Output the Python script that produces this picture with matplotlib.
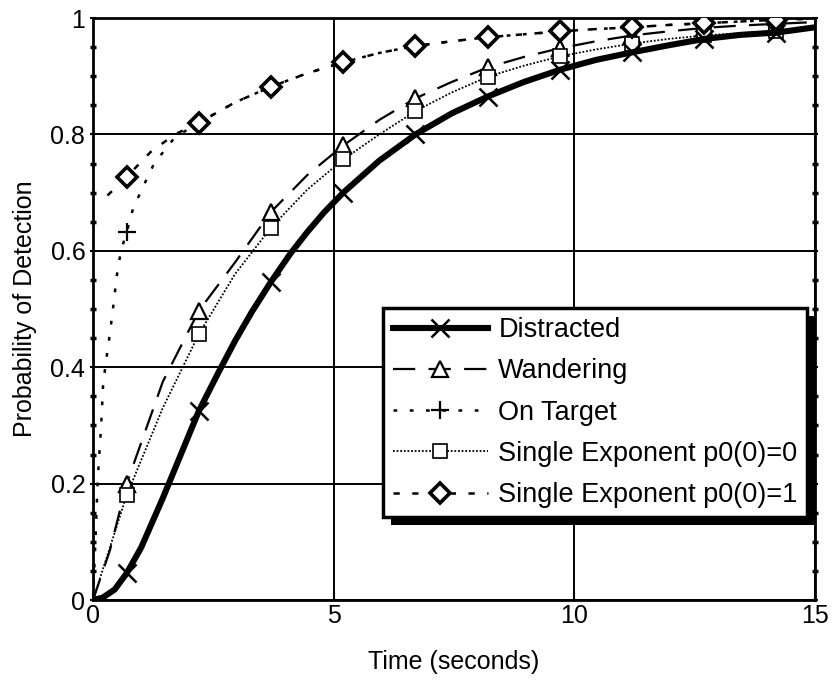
import matplotlib
matplotlib.use('Agg')
import matplotlib.pyplot as plt
from matplotlib.patches import Rectangle
import numpy as np

# values
mark_t = [0.7, 2.2, 3.7, 5.2, 6.7, 8.2, 9.7, 11.2, 12.7, 14.2]

t_dis = [0, 0.2, 0.45, 0.7, 1.0, 1.45, 1.8, 2.2, 2.6, 2.95, 3.3, 3.7, 4.1, 4.45, 4.8, 5.2, 5.95, 6.7,
         7.45, 8.2, 8.95, 9.7, 10.45, 11.2, 11.95, 12.7, 13.45, 14.2, 15]
p_dis = [0, 0.004, 0.018, 0.046, 0.09, 0.175, 0.245, 0.325, 0.39, 0.445, 0.495, 0.547, 0.595, 0.632,
         0.666, 0.70, 0.755, 0.80, 0.836, 0.865, 0.89, 0.911, 0.928, 0.941, 0.953, 0.964, 0.971,
         0.975, 0.984]

t_wan = [0, 0.35, 0.7, 1.45, 2.2, 2.95, 3.7, 4.45, 5.2, 5.95, 6.7, 7.45, 8.2, 8.95, 9.7,
         10.45, 11.2, 11.95, 12.7, 13.45, 14.2, 15]
p_wan = [0, 0.085, 0.2, 0.375, 0.497, 0.58, 0.667, 0.73, 0.781, 0.825, 0.862, 0.89, 0.915,
         0.933, 0.948, 0.96, 0.97, 0.977, 0.983, 0.987, 0.99, 0.993]

t_on = [0, 0.05, 0.1, 0.17, 0.21, 0.27, 0.33, 0.4, 0.5, 0.58, 0.7, 0.83, 1.04, 1.27, 1.7, 2.2,
        2.95, 3.7, 4.45, 5.2, 5.95, 6.7, 7.45, 8.2, 8.95, 9.7, 10.45, 11.2, 11.95, 12.7, 13.45, 14.2, 15]
p_on = [0, 0.1, 0.21, 0.3, 0.37, 0.41, 0.445, 0.49, 0.56, 0.6, 0.632, 0.672, 0.71, 0.75, 0.795, 0.82,
        0.855, 0.882, 0.905, 0.924, 0.94, 0.952, 0.96, 0.967, 0.972, 0.977, 0.981, 0.984, 0.988,
        0.991, 0.994, 0.997, 0.999]

t_se0 = [0, 0.35, 0.7, 1.45, 2.2, 2.95, 3.7, 4.45, 5.2, 5.95, 6.7, 7.45, 8.2, 8.95, 9.7,
         10.45, 11.2, 11.95, 12.7, 13.45, 14.2, 15]
p_se0 = [0, 0.09, 0.18, 0.33, 0.457, 0.56, 0.64, 0.705, 0.757, 0.80, 0.84, 0.872, 0.899, 0.918,
         0.934, 0.946, 0.956, 0.964, 0.97, 0.974, 0.978, 0.982]

t_se1 = [0.3, 0.7, 1.2, 1.7, 2.2, 2.95, 3.7, 4.45, 5.2, 5.95, 6.7, 7.45, 8.2, 8.95, 9.7,
         10.45, 11.2, 11.95, 12.7, 13.45, 14.2, 15]
p_se1 = [0.695, 0.727, 0.77, 0.80, 0.82, 0.855, 0.882, 0.905, 0.924, 0.94, 0.952, 0.96, 0.967,
         0.972, 0.977, 0.981, 0.984, 0.988, 0.991, 0.994, 0.997, 0.999]

labels = ['Distracted', 'Wandering', 'On Target',
          'Single Exponent p0(0)=0', 'Single Exponent p0(0)=1']


def marks(t):
    t = np.array(t)
    return [i for i, v in enumerate(t) if np.any(np.isclose(v, mark_t))]


plt.rcParams['font.family'] = ['Liberation Sans', 'DejaVu Sans']

fig = plt.figure(figsize=(8.39, 6.8), dpi=100)
ax = fig.add_axes([93 / 839, 1 - 600 / 680, 722 / 839, 582 / 680])

ax.plot(t_dis, p_dis, color='black', lw=4.4, ls='-', marker='x', ms=13, mew=1.8,
        markevery=marks(t_dis), label=labels[0], zorder=4)
ax.plot(t_wan, p_wan, color='black', lw=1.6, ls=(0, (10, 6)), marker='^', ms=12, mew=1.6,
        mfc='white', markevery=marks(t_wan), label=labels[1], zorder=3)
ax.plot(t_on, p_on, color='black', lw=1.8, ls=(0, (1.5, 5)), marker='+', ms=13, mew=1.6,
        markevery=marks(t_on), label=labels[2], zorder=3)
ax.plot(t_se0, p_se0, color='black', lw=1.3, ls=(0, (1, 1)), marker='s', ms=10, mew=1.2,
        mfc='white', markevery=marks(t_se0), label=labels[3], zorder=3)
ax.plot(t_se1, p_se1, color='black', lw=1.8, ls=(0, (2.5, 5)), marker='D', ms=10, mew=2.6,
        mfc='white', markevery=marks(t_se1), label=labels[4], zorder=3)

ax.set_xlim(0, 15)
ax.set_ylim(0, 1)
ax.set_xticks([0, 5, 10, 15])
ax.set_xticklabels(['0', '5', '10', '15'])
ax.set_yticks([0, 0.2, 0.4, 0.6, 0.8, 1])
ax.set_yticklabels(['0', '0.2', '0.4', '0.6', '0.8', '1'])
ax.set_yticks(np.arange(0, 1.001, 0.05), minor=True)
ax.grid(True, which='major', color='black', lw=1.4)
ax.tick_params(axis='both', which='major', labelsize=18, direction='in', length=5, width=1.5, pad=3)
ax.tick_params(axis='y', which='both', left=True, right=True, direction='inout')
ax.tick_params(axis='y', which='minor', length=5, width=2.5)
for s in ax.spines.values():
    s.set_linewidth(2)

ax.set_xlabel('Time (seconds)', fontsize=18, labelpad=16)
ax.set_ylabel('Probability of Detection', fontsize=18, labelpad=10)

leg = ax.legend(loc='upper left', bbox_to_anchor=(0.402, 0.502), fontsize=19.5,
                frameon=True, fancybox=False, framealpha=1, edgecolor='black',
                handlelength=3.5, handletextpad=0.4, borderaxespad=0, borderpad=0.35,
                labelspacing=0.56)
leg.get_frame().set_linewidth(2.5)
leg.set_zorder(6)

# heavy black drop shadow behind the legend box
fig.canvas.draw()
bb = leg.get_window_extent().transformed(ax.transAxes.inverted())
dx = 8 / 722
dy = 8 / 582
ax.add_patch(Rectangle((bb.x0 + dx, bb.y0 - dy), bb.width, bb.height, transform=ax.transAxes,
                       facecolor='black', edgecolor='none', clip_on=False, zorder=5.5))

plt.savefig('out.png', dpi=100)
